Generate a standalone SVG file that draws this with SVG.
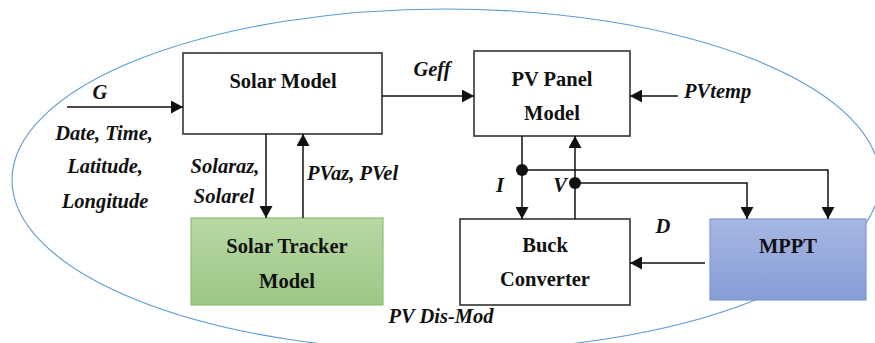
<svg xmlns="http://www.w3.org/2000/svg" width="875" height="343" viewBox="0 0 875 343">
<defs>
<linearGradient id="gGreen" x1="0" y1="0" x2="0" y2="1">
<stop offset="0" stop-color="#b8d8a4"/>
<stop offset="1" stop-color="#9cc785"/>
</linearGradient>
<linearGradient id="gBlue" x1="0" y1="0" x2="0" y2="1">
<stop offset="0" stop-color="#a8b7e3"/>
<stop offset="1" stop-color="#869dd6"/>
</linearGradient>
<marker id="arr" markerUnits="userSpaceOnUse" markerWidth="13" markerHeight="13" refX="12" refY="6.5" orient="auto">
<path d="M0,0 L12,6.5 L0,13 z" fill="#111"/>
</marker>
</defs>
<style>
.box{fill:#fff;stroke:#333;stroke-width:1.6}
.t{font-family:"Liberation Serif","Times New Roman",serif;font-weight:bold;font-size:20.5px;fill:#111;text-anchor:middle}
.l{font-family:"Liberation Serif","Times New Roman",serif;font-weight:bold;font-style:italic;font-size:20.5px;fill:#111}
.c{fill:none;stroke:#111;stroke-width:1.5}
</style>
<ellipse cx="446" cy="180" rx="434" ry="171" fill="none" stroke="#5b9bd5" stroke-width="1.1"/>

<g id="solar-model">
<rect class="box" x="183" y="53" width="199" height="81"/>
<text class="t" x="283" y="88">Solar Model</text>
</g>
<g id="pv-panel">
<rect class="box" x="474" y="51" width="156" height="85"/>
<text class="t" x="552" y="86">PV Panel</text>
<text class="t" x="552" y="120">Model</text>
</g>
<g id="solar-tracker">
<rect x="191" y="218" width="192" height="87" fill="url(#gGreen)" stroke="#8fbf72" stroke-width="1.2"/>
<text class="t" x="287" y="253">Solar Tracker</text>
<text class="t" x="287" y="288">Model</text>
</g>
<g id="buck">
<rect class="box" x="460" y="219" width="170" height="86"/>
<text class="t" x="545" y="252">Buck</text>
<text class="t" x="545" y="286">Converter</text>
</g>
<g id="mppt">
<rect x="710" y="219" width="156" height="81" fill="url(#gBlue)" stroke="#7f9ad6" stroke-width="1.2"/>
<text class="t" x="788" y="253">MPPT</text>
</g>

<g id="connectors">
<line class="c" x1="67" y1="107" x2="183" y2="107" marker-end="url(#arr)"/>
<line class="c" x1="382" y1="96" x2="474" y2="96" marker-end="url(#arr)"/>
<line class="c" x1="678" y1="96" x2="630" y2="96" marker-end="url(#arr)"/>
<line class="c" x1="266" y1="134" x2="266" y2="218" marker-end="url(#arr)"/>
<line class="c" x1="303" y1="218" x2="303" y2="134" marker-end="url(#arr)"/>
<line class="c" x1="522" y1="136" x2="522" y2="219" marker-end="url(#arr)"/>
<line class="c" x1="575" y1="219" x2="575" y2="136" marker-end="url(#arr)"/>
<polyline class="c" points="522,170 828,170 828,219" marker-end="url(#arr)"/>
<polyline class="c" points="575,183 747,183 747,219" marker-end="url(#arr)"/>
<line class="c" x1="705" y1="263" x2="630" y2="263" marker-end="url(#arr)"/>
<circle cx="522" cy="170" r="6" fill="#111"/>
<circle cx="575" cy="183" r="6" fill="#111"/>
</g>

<g id="labels">
<text class="l" x="100" y="99" text-anchor="middle">G</text>
<text class="l" x="104" y="140" text-anchor="middle">Date, Time,</text>
<text class="l" x="105" y="173" text-anchor="middle">Latitude,</text>
<text class="l" x="105" y="208" text-anchor="middle">Longitude</text>
<text class="l" x="225" y="173" text-anchor="middle">Solaraz,</text>
<text class="l" x="224" y="203" text-anchor="middle">Solarel</text>
<text class="l" x="307" y="180">PVaz, PVel</text>
<text class="l" x="432" y="76" text-anchor="middle">Geff</text>
<text class="l" x="684" y="98">PVtemp</text>
<text class="l" x="500" y="192" text-anchor="middle">I</text>
<text class="l" x="560" y="192" text-anchor="middle">V</text>
<text class="l" x="663" y="233" text-anchor="middle">D</text>
<text class="l" x="441" y="323" text-anchor="middle">PV Dis-Mod</text>
</g>
</svg>
